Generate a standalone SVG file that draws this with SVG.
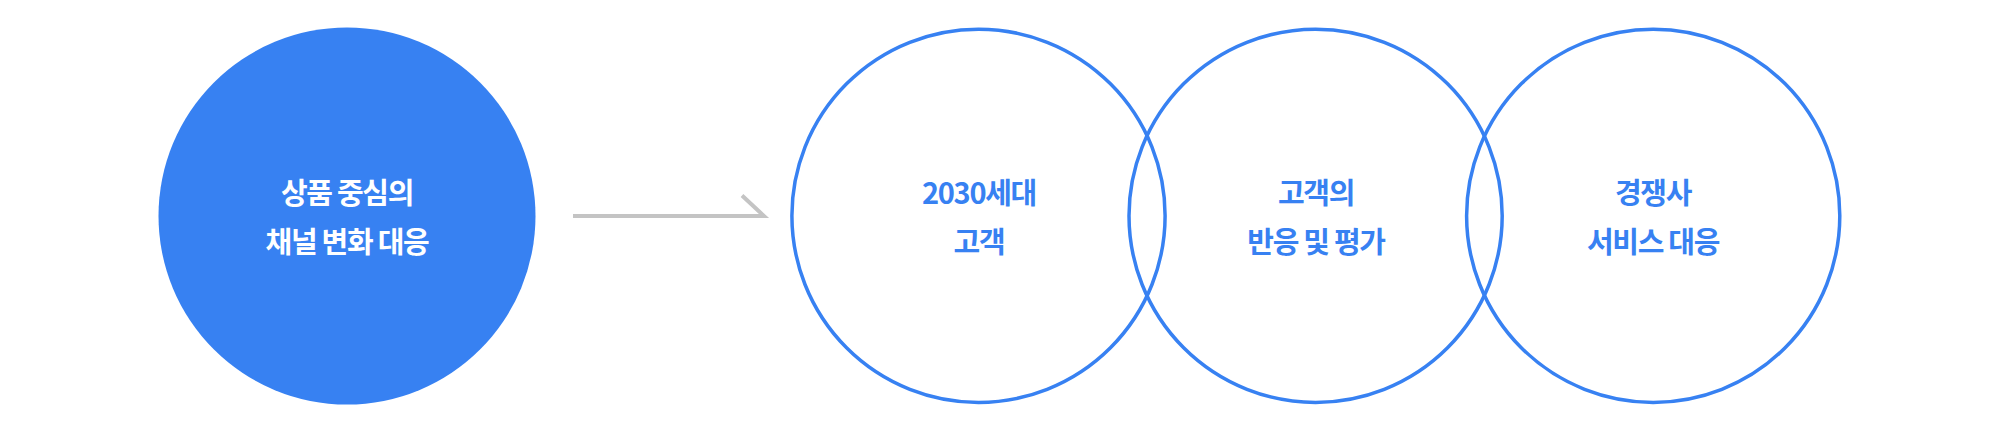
<svg xmlns="http://www.w3.org/2000/svg" width="1998" height="432" viewBox="0 0 1998 432">
<style>
.t{font-family:"Noto Sans CJK KR","Noto Sans",sans-serif;font-size:29px;font-weight:700;text-anchor:middle;letter-spacing:-1.3px}
.w{fill:#ffffff}
.b{fill:#3781f2}
.ring{fill:#ffffff;fill-opacity:0;stroke:#3781f2;stroke-width:3.5}
</style>
<rect width="1998" height="432" fill="#ffffff"/>
<g id="node-product">
<circle cx="347" cy="216" r="188.5" fill="#3781f2"/>
<text class="t w" x="347" y="204">상품 중심의</text>
<text class="t w" x="347" y="253">채널 변화 대응</text>
</g>
<g id="connectors">
<polyline points="573,216 764,216 742,195.5" fill="none" stroke="#c4c4c4" stroke-width="4"/>
</g>
<g id="node-2030">
<circle class="ring" cx="978.5" cy="215.8" r="186.6"/>
<text class="t b" x="979" y="204">2030세대</text>
<text class="t b" x="979" y="253">고객</text>
</g>
<g id="node-reaction">
<circle class="ring" cx="1315.6" cy="215.8" r="186.6"/>
<text class="t b" x="1316" y="204">고객의</text>
<text class="t b" x="1316" y="253">반응 및 평가</text>
</g>
<g id="node-competitor">
<circle class="ring" cx="1653.2" cy="215.8" r="186.6"/>
<text class="t b" x="1653" y="204">경쟁사</text>
<text class="t b" x="1653" y="253">서비스 대응</text>
</g>
</svg>
